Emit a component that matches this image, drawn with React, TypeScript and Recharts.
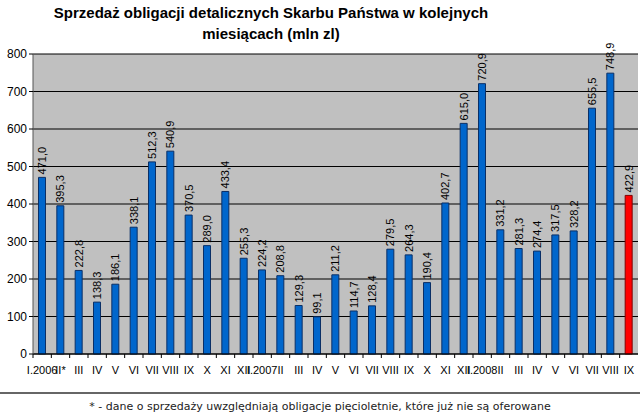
import React from 'react';
import { BarChart, Bar, XAxis, YAxis, CartesianGrid, Cell, LabelList } from 'recharts';

const months = [
    'I.2006', 'II*', 'III', 'IV', 'V', 'VI', 'VII', 'VIII', 'IX', 'X', 'XI', 'XII',
    'I.2007', 'II', 'III', 'IV', 'V', 'VI', 'VII', 'VIII', 'IX', 'X', 'XI', 'XII',
    'I.2008', 'II', 'III', 'IV', 'V', 'VI', 'VII', 'VIII', 'IX'
];

const sales = [
    471.0, 395.3, 222.8, 138.3, 186.1, 338.1, 512.3, 540.9, 370.5, 289.0, 433.4, 255.3,
    224.2, 208.8, 129.3, 99.1, 211.2, 114.7, 128.4, 279.5, 264.3, 190.4, 402.7, 615.0,
    720.9, 331.2, 281.3, 274.4, 317.5, 328.2, 655.5, 748.9, 422.9
];

const yTicks = [0, 100, 200, 300, 400, 500, 600, 700, 800];

const chartData = months.map((m, i) => ({ month: m, value: sales[i], idx: i }));

const STEP = (638 - 33) / months.length;

const MonthTick = (props: any) => {
    const { x, y, payload } = props;
    const left = x - STEP / 2;
    return (
        <g>
            <line x1={left} y1={y - 8} x2={left} y2={y - 4} stroke="#000" />
            <text x={x} y={y + 12} textAnchor="middle" fontSize={11} fill="#000"
                fontFamily="'Liberation Sans', Arial, sans-serif">
                {payload.value}
            </text>
        </g>
    );
};

const ValueLabel = (props: any) => {
    const { x, y, width, value } = props;
    const cx = x + width / 2;
    const ty = y - 3;
    return (
        <text x={cx} y={ty} transform={`rotate(-90, ${cx}, ${ty})`} textAnchor="start"
            dominantBaseline="central" fontSize={11} fill="#000"
            fontFamily="'Liberation Sans', Arial, sans-serif">
            {Number(value).toFixed(1).replace('.', ',')}
        </text>
    );
};

export default function App() {
    return (
        <div style={{ position: 'absolute', left: 0, top: 0, width: 640, height: 420, background: '#fff' }}>
            <div style={{
                position: 'absolute', left: 0, top: 2, width: 542, textAlign: 'center',
                fontFamily: "'Liberation Sans', Arial, sans-serif", fontWeight: 'bold',
                fontSize: 15, lineHeight: '21px', color: '#000'
            }}>
                Sprzedaż obligacji detalicznych Skarbu Państwa w kolejnych<br />miesiącach (mln zl)
            </div>
            <div style={{ position: 'absolute', left: 0, top: 0 }}>
                <BarChart width={640} height={390} data={chartData}
                    margin={{ top: 54, right: 2, left: 0, bottom: 6 }}
                    barCategoryGap="30%">
                    <CartesianGrid fill="#c0c0c0" stroke="#000" vertical={false} />
                    <XAxis dataKey="month" interval={0} height={30} tickLine={false}
                        axisLine={{ stroke: '#000' }} tick={<MonthTick />} />
                    <YAxis domain={[0, 800]} ticks={yTicks} width={33} interval={0}
                        tickSize={4} axisLine={{ stroke: '#555' }} tickLine={{ stroke: '#000' }}
                        tick={{ fontSize: 12, fill: '#000', fontFamily: "'Liberation Sans', Arial, sans-serif" }} />
                    <Bar dataKey="value" fill="#0066cc" stroke="#0a2f66" strokeWidth={1}
                        isAnimationActive={false}>
                        {chartData.map((d) => (
                            <Cell key={d.idx} fill={d.idx === sales.length - 1 ? '#ff0000' : '#0066cc'}
                                stroke={d.idx === sales.length - 1 ? '#800000' : '#0a2f66'} />
                        ))}
                        <LabelList dataKey="value" content={<ValueLabel />} />
                    </Bar>
                </BarChart>
            </div>
            <div style={{ position: 'absolute', left: 0, top: 392, width: 640, height: 2, background: '#666' }} />
            <div style={{
                position: 'absolute', left: 0, top: 400, width: 640, textAlign: 'center',
                fontFamily: "'DejaVu Sans', Verdana, sans-serif", fontSize: 11, color: '#222'
            }}>
                * - dane o sprzedaży uwzględniają obligacje pięcioletnie, które już nie są oferowane
            </div>
        </div>
    );
}
